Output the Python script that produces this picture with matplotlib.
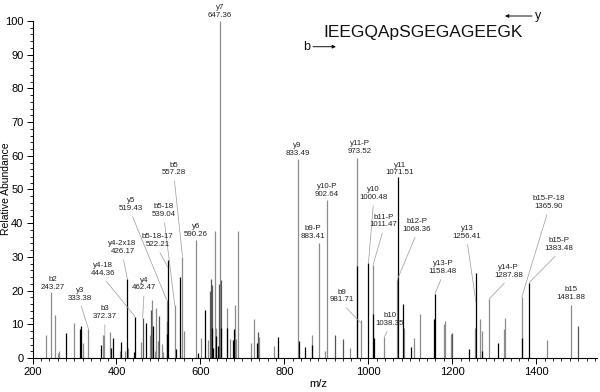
import matplotlib
matplotlib.use("Agg")
import matplotlib.pyplot as plt
from matplotlib.ticker import MultipleLocator

plt.rcParams['font.family'] = ['Liberation Sans', 'DejaVu Sans']

# ---- data: peaks (m/z, relative abundance) ----
gray_mz = [232, 243.27, 254, 260, 262, 298, 319.5, 333.38, 367, 371, 384, 409, 420, 428,
           458, 479, 484, 491, 495, 498, 509.6, 512, 519.43, 539.04, 557.28, 562, 590.26,
           602, 619, 636, 638, 647.36, 664, 670, 681.6, 685.5, 690.5, 721, 726.7, 740,
           776.5, 833.49, 866, 883.41, 898, 902.64, 956, 973.52, 981.71, 1011.47,
           1038.35, 1068.36, 1085, 1109.6, 1123.8, 1181, 1183.4, 1197, 1254, 1266.5,
           1270.6, 1287.88, 1323.6, 1326.7, 1365.9, 1426, 1481.88]
gray_int = [6.8, 19.5, 12.9, 1.5, 2.0, 10.3, 4.4, 8.6, 6.8, 6.8, 7.7, 2.0, 2.0, 3.0,
            4.7, 6.7, 17.2, 2.0, 14.7, 5.0, 4.3, 1.8, 17.3, 15.6, 30.1, 8.0, 35.1,
            6.0, 5.3, 37.6, 8.8, 100.0, 14.7, 5.6, 15.7, 5.6, 37.6, 4.5, 11.6, 6.1,
            3.5, 59.0, 6.8, 34.1, 2.0, 46.9, 3.0, 59.3, 11.3, 27.6,
            6.3, 23.0, 8.9, 6.0, 13.0, 10.1, 11.1, 7.0, 9.0, 11.5,
            8.1, 17.5, 8.5, 12.0, 18.1, 5.3, 15.7]

dark_mz = [463, 482, 501.6, 520.7, 623, 625, 627.7, 644, 649, 738, 921.7, 940,
           1199.3, 1498.8]
dark_int = [11.9, 14.2, 12.5, 11.0, 19.9, 23.4, 21.7, 22.0, 23.0, 7.6, 6.8, 5.7,
            7.5, 9.5]

black_mz = [281, 314, 316, 363, 386, 392, 411, 426.17, 443, 444.36, 471, 486, 521,
            522.21, 541, 552, 594, 611, 628, 630, 638, 641, 650, 662.5, 677.6, 680,
            734, 785.5, 835, 849, 866, 973.52, 1000.48, 1011.47, 1013, 1071.51, 1083,
            1102, 1157, 1158.48, 1240, 1257, 1272, 1310, 1366, 1383.48]
black_int = [7.4, 8.6, 9.5, 4.0, 3.0, 6.0, 4.8, 23.4, 1.7, 12.3, 10.4, 9.5, 7.0,
             29.2, 2.8, 24.0, 1.5, 14.2, 9.0, 3.0, 6.5, 3.5, 9.0, 9.0, 5.3, 8.6,
             4.5, 6.3, 5.1, 3.4, 4.0, 27.3, 28.2, 13.0, 6.0, 53.7, 16.0,
             3.3, 11.5, 19.0, 2.7, 25.3, 2.0, 4.4, 6.0, 22.4]

# ---- annotated fragment ions ----
ion_names = ["y7", "y9", "y11-P", "y11", "y10-P", "y10", "b15-P-18", "b9-P", "b11-P",
             "b12-P", "y13", "b15-P", "y13-P", "y14-P", "b15", "b9", "b10", "b5", "y5",
             "b5-18", "b5-18-17", "y6", "y4-2x18", "y4-18", "y4", "b2", "y3", "b3"]
ion_mz = [647.36, 833.49, 973.52, 1071.51, 902.64, 1000.48, 1365.90, 883.41, 1011.47,
          1068.36, 1256.41, 1383.48, 1158.48, 1287.88, 1481.88, 981.71, 1038.35, 557.28,
          519.43, 539.04, 522.21, 590.26, 426.17, 444.36, 462.47, 243.27, 333.38, 372.37]
ion_int = [100.0, 59.0, 59.3, 53.7, 46.9, 28.2, 18.1, 34.1, 27.6,
           23.0, 16.7, 22.4, 19.0, 17.5, 15.7, 10.5, 6.3, 30.1,
           17.3, 15.6, 27.0, 35.1, 23.4, 12.3, 11.9, 19.5, 8.6, 6.8]
# label placement (x in m/z, bottom of label in % abundance); leader drawn if flagged
label_xy = [(646.6, 100.6), (831, 59.6), (979.5, 60.3), (1074.6, 53.9), (902, 47.6),
            (1012.8, 46.6), (1429, 43.9), (868.7, 35.0), (1036.6, 38.5),
            (1116, 37.2), (1235, 35.1), (1455, 31.4), (1178, 24.7), (1334, 23.5),
            (1483, 16.9), (937.7, 16.2), (1051, 9.2), (537.2, 53.9), (434, 43.3),
            (513.4, 41.5), (497.7, 32.6), (588.8, 35.6), (414.5, 30.6), (367, 24.1),
            (466, 19.8), (248, 20.0), (313, 16.7), (372.4, 11.3)]
leader = [False, False, False, False, False, True, True, False, True,
          True, True, True, True, True, False, True, True, True, True,
          True, True, False, True, True, True, False, True, True]

peptide = "IEEGQApSGEGAGEEGK"

# ---- figure ----
fig = plt.figure(figsize=(6.0, 3.92), dpi=100)
ax = fig.add_axes([32.5 / 600, 34 / 392, (597 - 32.5) / 600, (358 - 21) / 392])

ax.vlines(gray_mz, 0, gray_int, colors="#8c8c8c", linewidth=0.9)
ax.vlines(dark_mz, 0, dark_int, colors="#555555", linewidth=0.9)
ax.vlines(black_mz, 0, black_int, colors="#000000", linewidth=0.9)

ax.set_xlim(200, 1545)
ax.set_ylim(0, 100)
ax.xaxis.set_major_locator(MultipleLocator(200))
ax.xaxis.set_minor_locator(MultipleLocator(20))
ax.yaxis.set_major_locator(MultipleLocator(10))
ax.yaxis.set_minor_locator(MultipleLocator(2))
ax.set_xticks([200, 400, 600, 800, 1000, 1200, 1400])
ax.tick_params(axis="both", which="major", length=4.5, width=0.7, labelsize=8, pad=2)
ax.tick_params(axis="both", which="minor", length=2.5, width=0.6)
for s in ("top", "right"):
    ax.spines[s].set_visible(False)
for s in ("left", "bottom"):
    ax.spines[s].set_linewidth(0.8)

fig.text(318 / 600, 1 - 384 / 392, "m/z", ha="center", va="center", fontsize=8)
fig.text(6 / 600, 1 - 189 / 392, "Relative Abundance", ha="center", va="center",
         rotation=90, fontsize=7.5)

for name, mz, it, (lx, ly), ld in zip(ion_names, ion_mz, ion_int, label_xy, leader):
    txt = f"{name}\n{mz:.2f}"
    if ld:
        ax.annotate(txt, xy=(mz, it), xytext=(lx, ly), ha="center", va="bottom",
                    fontsize=5.7, color="#222222", linespacing=1.15,
                    annotation_clip=False,
                    arrowprops=dict(arrowstyle="-", color="#9a9a9a", lw=0.5,
                                    shrinkA=1.5, shrinkB=0, relpos=(0.5, 0.0)))
    else:
        ax.text(lx, ly, txt, ha="center", va="bottom", fontsize=5.7,
                color="#222222", linespacing=1.15, clip_on=False)

# peptide sequence with b / y direction arrows
fig.text(423 / 600, 1 - 37.3 / 392, peptide, ha="center", va="baseline",
         fontsize=12.5, color="#111111")
fig.text(307 / 600, 1 - 50.5 / 392, "b", ha="center", va="baseline", fontsize=9,
         color="#111111")
fig.text(538 / 600, 1 - 18.5 / 392, "y", ha="center", va="baseline", fontsize=9,
         color="#111111")
ax.annotate("", xy=(336, 392 - 46.7), xytext=(313, 392 - 46.7),
            xycoords="figure pixels", textcoords="figure pixels",
            arrowprops=dict(arrowstyle="-|>", color="#111111", lw=0.7,
                            mutation_scale=5, shrinkA=0, shrinkB=0))
ax.annotate("", xy=(505, 392 - 16), xytext=(532, 392 - 16),
            xycoords="figure pixels", textcoords="figure pixels",
            arrowprops=dict(arrowstyle="-|>", color="#111111", lw=0.7,
                            mutation_scale=5, shrinkA=0, shrinkB=0))

fig.savefig("out.png", dpi=100)
